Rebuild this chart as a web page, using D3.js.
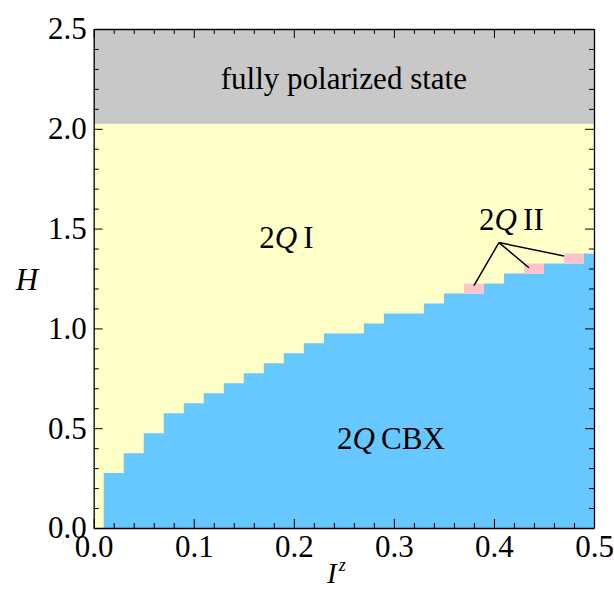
<!DOCTYPE html>
<html>
<head>
<meta charset="utf-8">
<script src="https://cdn.jsdelivr.net/npm/d3@7"></script>
<style>
  html, body { margin: 0; padding: 0; background: #fff; }
  svg { display: block; }
</style>
</head>
<body>
<div id="chart"></div>
<script>
// left edges of the Iz grid columns (last value closes the frame)
const izEdges = [0.01, 0.03, 0.05, 0.07, 0.09, 0.11, 0.13, 0.15, 0.17, 0.19, 0.21, 0.23, 0.25,
  0.27, 0.29, 0.31, 0.33, 0.35, 0.37, 0.39, 0.41, 0.43, 0.45, 0.47, 0.49, 0.5];
// upper H of the 2Q CBX phase in each column
const cbxTop = [0.275, 0.375, 0.475, 0.575, 0.625, 0.675, 0.725, 0.775, 0.825, 0.875, 0.925, 0.975, 0.975,
  1.025, 1.075, 1.075, 1.125, 1.175, 1.175, 1.225, 1.275, 1.275, 1.325, 1.325, 1.375];
// 2Q II cells: [iz0, iz1, h0, h1]
const twoQII = [
  [0.37, 0.39, 1.175, 1.225],
  [0.43, 0.45, 1.275, 1.325],
  [0.47, 0.49, 1.325, 1.375]
];
const saturationH = 2.025;
// annotation: label anchor and the pointer ends
const arrowFrom = [0.405, 1.43];
const arrowTo = [[0.38, 1.214], [0.435, 1.304], [0.47, 1.363]];

const xMajor = [0, 0.1, 0.2, 0.3, 0.4, 0.5];
const xMinor = [0.02, 0.04, 0.06, 0.08, 0.12, 0.14, 0.16, 0.18, 0.22, 0.24, 0.26, 0.28,
  0.32, 0.34, 0.36, 0.38, 0.42, 0.44, 0.46, 0.48];
const yMajor = [0, 0.5, 1.0, 1.5, 2.0, 2.5];
const yMinor = [0.1, 0.2, 0.3, 0.4, 0.6, 0.7, 0.8, 0.9, 1.1, 1.2, 1.3, 1.4, 1.6, 1.7, 1.8, 1.9,
  2.1, 2.2, 2.3, 2.4];

const width = 614;
const height = 589;
const margin = { top: 29, right: 20, bottom: 61, left: 93.7 };
const serif = '"Liberation Serif", "Times New Roman", serif';
const fontSize = 31;

const x = d3.scaleLinear().domain([0, 0.5]).range([margin.left, width - margin.right]);
const y = d3.scaleLinear().domain([0, 2.5]).range([height - margin.bottom, margin.top]);

const svg = d3.select("#chart").append("svg")
  .attr("width", width)
  .attr("height", height)
  .style("font-family", serif);

// background phases
svg.append("rect")
  .attr("x", x(0)).attr("y", y(saturationH))
  .attr("width", x(0.5) - x(0)).attr("height", y(0) - y(saturationH))
  .attr("fill", "#ffffc8");

svg.append("rect")
  .attr("x", x(0)).attr("y", y(2.5))
  .attr("width", x(0.5) - x(0)).attr("height", y(saturationH) - y(2.5))
  .attr("fill", "#c8c8c8");

const steps = izEdges.map((iz, i) => ({ iz, h: cbxTop[Math.min(i, cbxTop.length - 1)] }));
const area = d3.area()
  .x((d) => x(d.iz))
  .y0(y(0))
  .y1((d) => y(d.h))
  .curve(d3.curveStepAfter);

svg.append("path")
  .datum(steps)
  .attr("d", area)
  .attr("fill", "#66c8ff");

svg.append("g")
  .selectAll("rect")
  .data(twoQII)
  .join("rect")
  .attr("x", (d) => x(d[0]))
  .attr("y", (d) => y(d[3]))
  .attr("width", (d) => x(d[1]) - x(d[0]))
  .attr("height", (d) => y(d[2]) - y(d[3]))
  .attr("fill", "#ffc3cb");

// axes, ticks inward on all sides
function addAxis(axisFn, scale, major, minor, transform, labels) {
  const gMinor = svg.append("g").attr("transform", transform)
    .call(axisFn(scale).tickValues(minor).tickSize(-5).tickFormat(""));
  gMinor.select(".domain").remove();
  gMinor.selectAll("line").attr("stroke", "#000");
  const g = svg.append("g").attr("transform", transform)
    .call(axisFn(scale).tickValues(major).tickSizeInner(-9).tickSizeOuter(0).tickPadding(labels ? 7 : 0)
      .tickFormat(labels ? d3.format(".1f") : ""));
  g.attr("font-family", null).attr("font-size", null);
  g.select(".domain").attr("stroke", "#000").attr("stroke-width", 1.3);
  g.selectAll("line").attr("stroke", "#000");
  g.selectAll("text")
    .style("font-family", serif)
    .style("font-size", fontSize + "px")
    .attr("fill", "#000");
  return g;
}
addAxis(d3.axisBottom, x, xMajor, xMinor, `translate(0,${y(0)})`, true);
addAxis(d3.axisTop, x, xMajor, xMinor, `translate(0,${y(2.5)})`, false);
addAxis(d3.axisLeft, y, yMajor, yMinor, `translate(${x(0)},0)`, true);
addAxis(d3.axisRight, y, yMajor, yMinor, `translate(${x(0.5)},0)`, false);

// phase labels
svg.append("text")
  .attr("x", x(0.25)).attr("y", y(2.2))
  .attr("text-anchor", "middle")
  .style("font-family", serif)
  .style("font-size", fontSize + "px")
  .text("fully polarized state");

function phaseLabel(iz, h, suffix) {
  const t = svg.append("text")
    .attr("x", x(iz)).attr("y", y(h))
    .attr("text-anchor", "middle")
    .style("font-family", serif)
    .style("font-size", fontSize + "px");
  t.append("tspan").text("2");
  t.append("tspan").style("font-style", "italic").text("Q");
  t.append("tspan").text("\u2009" + suffix);
}
phaseLabel(0.1926, 1.403, "I");
phaseLabel(0.297, 0.396, "CBX");
phaseLabel(0.4174, 1.493, "II");

svg.append("g")
  .selectAll("line")
  .data(arrowTo)
  .join("line")
  .attr("x1", x(arrowFrom[0])).attr("y1", y(arrowFrom[1]))
  .attr("x2", (d) => x(d[0])).attr("y2", (d) => y(d[1]))
  .attr("stroke", "#000")
  .attr("stroke-width", 1.5);

// axis titles
svg.append("text")
  .attr("x", 27).attr("y", 290)
  .attr("text-anchor", "middle")
  .style("font-family", serif)
  .style("font-size", fontSize + "px")
  .style("font-style", "italic")
  .text("H");

const xt = svg.append("text")
  .attr("x", 327).attr("y", 583)
  .style("font-family", serif)
  .style("font-size", "29px")
  .style("font-style", "italic");
xt.append("tspan").text("I");
xt.append("tspan").style("font-size", "18px").attr("dx", 2).attr("dy", -12).text("z");
</script>
</body>
</html>
